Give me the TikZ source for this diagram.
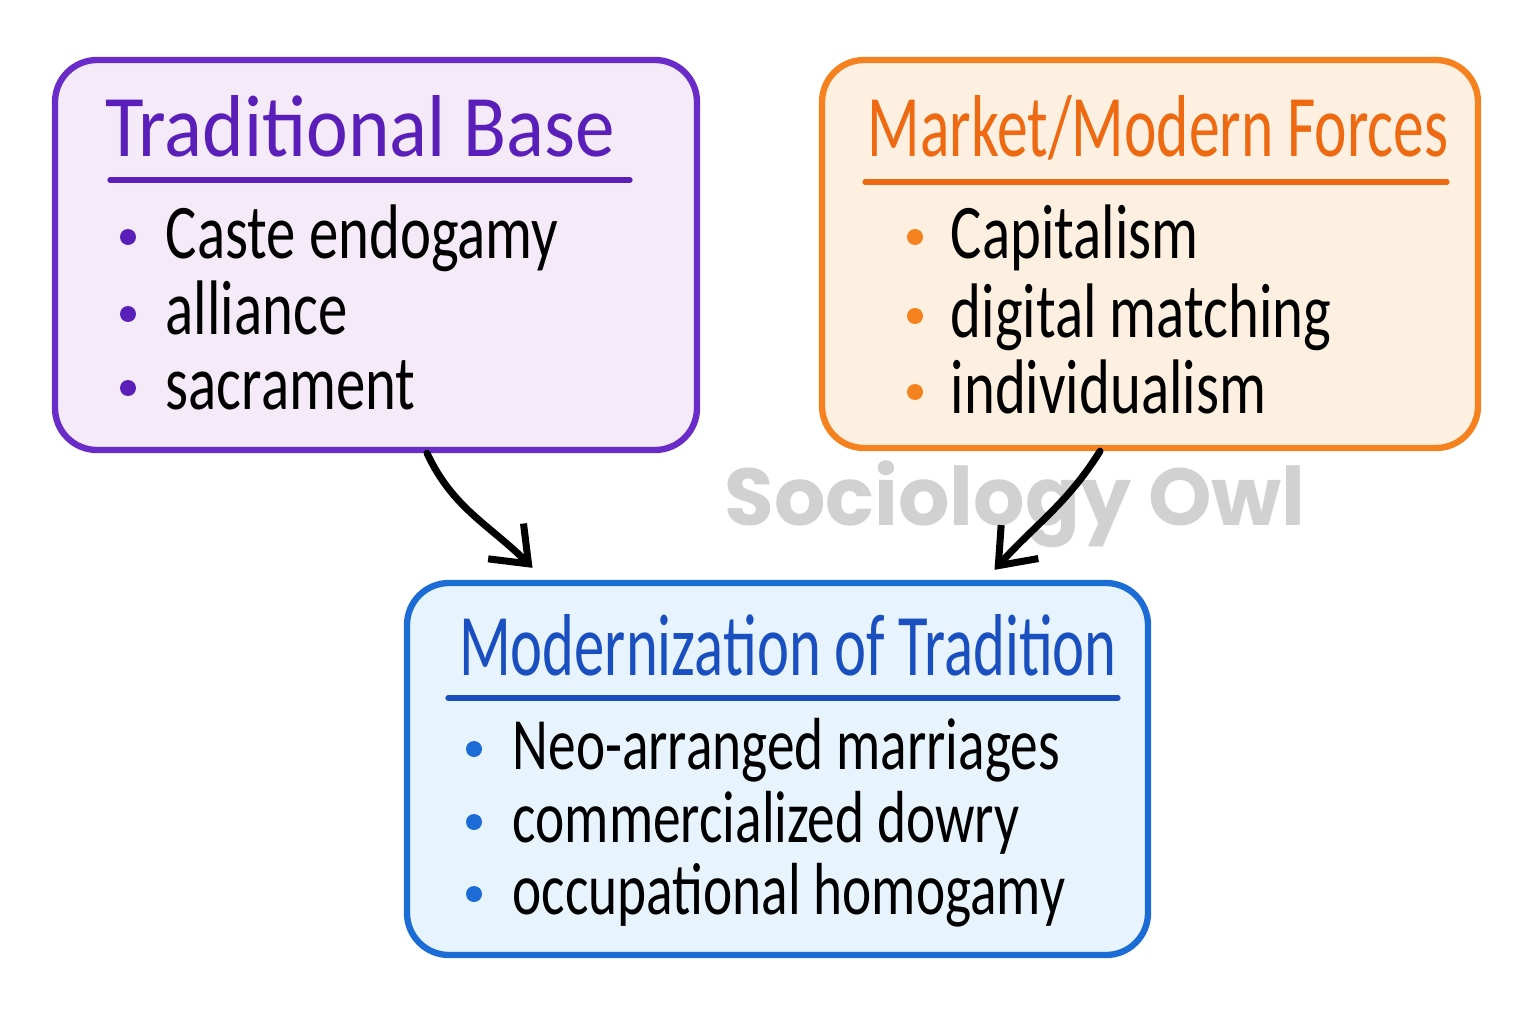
\documentclass[tikz,border=0pt]{standalone}
\usepackage{fontspec}
\usepackage{graphicx}
\usepackage{xcolor}
\usetikzlibrary{arrows.meta}
\setmainfont{Carlito}
\newfontfamily\owlfont{Poppins}

\newcommand{\narrow}[2][0.76]{\scalebox{#1}[1]{#2}}

\definecolor{tradline}{HTML}{6A2CC8}
\definecolor{tradtext}{HTML}{5A1FB8}
\definecolor{tradfill}{HTML}{F4EAF8}
\definecolor{mktline}{HTML}{F5821F}
\definecolor{mkttext}{HTML}{EE6A12}
\definecolor{mktfill}{HTML}{FEF0E1}
\definecolor{modline}{HTML}{1C6CD6}
\definecolor{modtext}{HTML}{1A4FC0}
\definecolor{modfill}{HTML}{E7F3FD}

\tikzset{
    card/.style={draw=#1line, fill=#1fill, line width=1.8pt, rounded corners=0.42cm},
    title/.style={text=#1text, font=\fontsize{25}{30}\selectfont, anchor=base, inner sep=0pt},
    item/.style={font=\fontsize{22}{26}\selectfont, anchor=base west, inner sep=0pt},
    flow/.style={line width=2pt, line cap=round, -{Straight Barb[length=3.2mm,width=5mm,line width=2pt]}}
}

\begin{document}
\begin{tikzpicture}
        \useasboundingbox (0,0) rectangle (15.36,10.24);

        \node[text=black!18, font=\owlfont\bfseries\fontsize{23}{27}\selectfont] (owl) at (10.15,5.20) {Sociology Owl};

        \node[card=trad, minimum width=6.42cm, minimum height=3.9cm] (trad) at (3.76,7.69) {};
        \node[card=mkt, minimum width=6.56cm, minimum height=3.88cm] (mkt) at (11.50,7.70) {};
        \node[card=mod, minimum width=7.41cm, minimum height=3.72cm] (mod) at (7.775,2.55) {};

        \node[title=trad] (tradtitle) at (3.60,8.67) {\narrow[0.9]{Traditional Base}};
        \node[title=mkt] (mkttitle) at (11.58,8.67) {\narrow[0.7]{Market/Modern Forces}};
        \node[title=mod] (modtitle) at (7.88,3.49) {\narrow[0.69]{Modernization of Tradition}};

        \draw[tradtext, line width=1.5pt, line cap=round] (1.10,8.44) -- (6.30,8.44);
        \draw[mkttext, line width=1.5pt, line cap=round] (8.65,8.42) -- (14.47,8.42);
        \draw[modtext, line width=1.5pt, line cap=round] (4.48,3.26) -- (11.18,3.26);

        \foreach \txt [count=\i] in {Caste endogamy, alliance, sacrament}
        {
            \pgfmathsetmacro{\yb}{{7.87,7.10,6.36}[\i-1]}
            \fill[tradtext] (1.28,\yb) circle (0.08);
            \node[item] (tradi\i) at (1.65,\yb-0.21) {\narrow{\txt}};
        }
        \foreach \txt [count=\i] in {Capitalism, digital matching, individualism}
        {
            \pgfmathsetmacro{\yb}{{7.87,7.08,6.32}[\i-1]}
            \fill[mktline] (9.15,\yb) circle (0.08);
            \node[item] (mkti\i) at (9.50,\yb-0.21) {\narrow{\txt}};
        }
        \foreach \txt [count=\i] in {Neo-arranged marriages, commercialized dowry, occupational homogamy}
        {
            \pgfmathsetmacro{\yb}{{2.75,2.02,1.30}[\i-1]}
            \fill[modline] (4.74,\yb) circle (0.08);
            \node[item, font=\fontsize{21}{25}\selectfont] (modi\i) at (5.12,\yb-0.20) {\narrow[0.75]{\txt}};
        }

        \draw[flow] ([xshift=0.51cm]trad.south) to[out=-65,in=135] ([xshift=-2.45cm,yshift=0.12cm]mod.north);
        \draw[flow] ([xshift=-0.50cm]mkt.south) to[out=-122,in=48] ([xshift=2.17cm,yshift=0.10cm]mod.north);

    \end{tikzpicture}
\end{document}
